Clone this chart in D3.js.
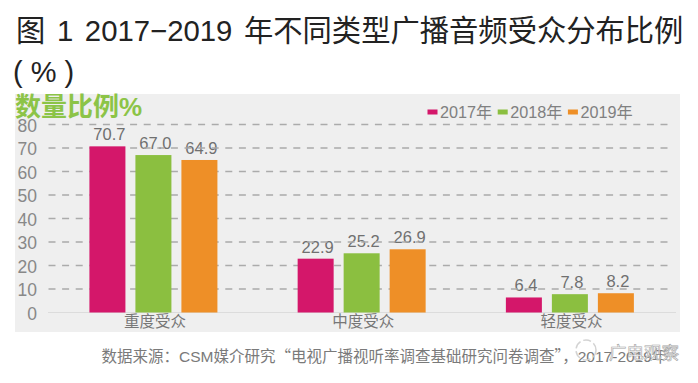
<!DOCTYPE html>
<html><head><meta charset="utf-8">
<script src="https://cdn.jsdelivr.net/npm/d3@7/dist/d3.min.js"></script>
<style>
html,body{margin:0;padding:0;background:#fff;}
svg{display:block;font-family:"Liberation Sans","Noto Sans CJK SC",sans-serif;}
</style></head>
<body>
<svg id="c" width="698" height="383"></svg>
<script>
const categories = ["重度受众", "中度受众", "轻度受众"];
const years = ["2017年", "2018年", "2019年"];
const values2017 = [70.7, 22.9, 6.4];
const values2018 = [67.0, 25.2, 7.8];
const values2019 = [64.9, 26.9, 8.2];
const yTicks = [0, 10, 20, 30, 40, 50, 60, 70, 80];
const colors = ["#d4176a", "#8bbf40", "#ee8f27"];

const series = [values2017, values2018, values2019];
const data = [];
categories.forEach((c, i) => years.forEach((y, j) => data.push({cat: c, year: y, value: series[j][i], color: colors[j]})));

const svg = d3.select("#c");
const cjk = '"Noto Sans CJK SC","Liberation Sans",sans-serif';
const lat = '"Liberation Sans","Noto Sans CJK SC",sans-serif';

// title
svg.append("text").attr("x", 16).attr("y", 41).attr("font-size", 29.3).attr("fill", "#222")
  .attr("word-spacing", 3.5).style("font-family", lat)
  .text("图 1 2017−2019 年不同类型广播音频受众分布比例");
svg.append("text").attr("x", 13).attr("y", 82).attr("font-size", 29).attr("fill", "#222")
  .text("( % )");

// panel
svg.append("rect").attr("x", 15).attr("y", 94).attr("width", 665).attr("height", 238).attr("fill", "#efefef");

svg.append("text").attr("x", 15).attr("y", 116).attr("font-size", 26).attr("font-weight", "bold")
  .attr("fill", "#8cc447").text("数量比例%");

const y = d3.scaleLinear().domain([0, 80]).range([312.5, 124.5]);
const x = d3.scaleBand().domain(categories).range([49.3, 674]).paddingInner(0).paddingOuter(0);
const xi = d3.scaleBand().domain(years).range([0, 128]).paddingInner(10 / 46).paddingOuter(0);
const off = (x.bandwidth() - 128) / 2;

// y axis labels
const yAxis = d3.axisLeft(y).tickValues(yTicks).tickSize(0).tickPadding(0);
const ya = svg.append("g").attr("transform", "translate(37,1)").call(yAxis);
ya.select(".domain").remove();
ya.selectAll("text").attr("font-size", 17.5).attr("fill", "#888")
  .style("font-family", '"Liberation Sans",sans-serif');

// value labels (drawn beneath gridlines)
svg.append("g").selectAll("text").data(data).join("text")
  .attr("x", d => x(d.cat) + off + xi(d.year) + xi.bandwidth() / 2 + 2)
  .attr("y", d => y(d.value) - 6)
  .attr("text-anchor", "middle").attr("font-size", 16.5).attr("fill", "#707070")
  .text(d => d.value.toFixed(1));

// gridlines
const grid = svg.append("g");
grid.selectAll("line").data(yTicks.filter(t => t > 0)).join("line")
  .attr("x1", 48.5).attr("x2", 672).attr("y1", d => y(d)).attr("y2", d => y(d))
  .attr("stroke", "#ababab").attr("stroke-width", 1.6).attr("stroke-dasharray", "7 6.6");
grid.append("line").attr("x1", 48).attr("x2", 676).attr("y1", y(0)).attr("y2", y(0))
  .attr("stroke", "#dcdcdc").attr("stroke-width", 1.2);

// bars
svg.append("g").selectAll("rect").data(data).join("rect")
  .attr("x", d => x(d.cat) + off + xi(d.year))
  .attr("y", d => y(d.value))
  .attr("width", xi.bandwidth())
  .attr("height", d => y(0) - y(d.value))
  .attr("fill", d => d.color);

// category labels
const xAxis = d3.axisBottom(x).tickSize(0).tickPadding(0);
const xa = svg.append("g").attr("transform", "translate(1.5,315)").call(xAxis);
xa.select(".domain").remove();
xa.selectAll("text").attr("font-size", 15.5).attr("fill", "#777").attr("dy", "0.8em")
  .style("font-family", cjk);

// legend
const lg = svg.append("g");
let lx = 427.5;
years.forEach((yr, j) => {
  lg.append("rect").attr("x", lx).attr("y", 109.5).attr("width", 10).attr("height", 5).attr("fill", colors[j]);
  const t = lg.append("text").attr("x", lx + 12.5).attr("y", 117.5).attr("font-size", 16.2).attr("fill", "#808080").text(yr);
  lx += 12.5 + t.node().getComputedTextLength() + 5.5;
});

// source
const src = svg.append("text").attr("x", 101.5).attr("y", 362).attr("font-size", 15.5).attr("fill", "#7a7a7a");
[["数据来源：", cjk], ["CSM", lat], ["媒介研究“电视广播视听率调查基础研究问卷调查”，", cjk], ["2017-2019", lat], ["年", cjk]]
  .forEach(([s, f]) => src.append("tspan").style("font-family", f).text(s));

// watermark
const wm = svg.append("g").attr("opacity", 0.9);
wm.append("circle").attr("cx", 586).attr("cy", 350).attr("r", 10).attr("fill", "none")
  .attr("stroke", "#cfcfcf").attr("stroke-width", 1.5).attr("stroke-dasharray", "8 3");
wm.append("text").attr("x", 609).attr("y", 359).attr("font-size", 17.5).attr("fill", "#fafafa")
  .attr("stroke", "#9a9a9a").attr("stroke-width", 0.6).style("font-family", cjk).text("广电观察");
</script>
</body></html>
